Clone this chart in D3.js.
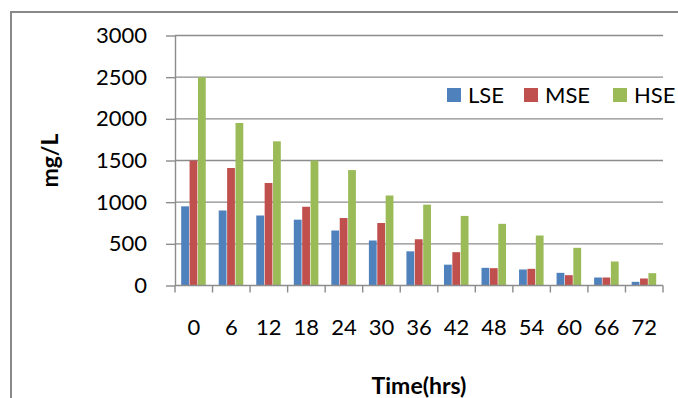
<!DOCTYPE html>
<html>
<head>
<meta charset="utf-8">
<script src="https://cdn.jsdelivr.net/npm/d3@7"></script>
<style>
  html, body { margin: 0; padding: 0; background: #fff; }
  svg { display: block; font-family: Lato, "Open Sans", sans-serif; }
</style>
</head>
<body>
<div id="chart"></div>
<script>
// chart data
const hours = ['0', '6', '12', '18', '24', '30', '36', '42', '48', '54', '60', '66', '72'];
const seriesNames = ['LSE', 'MSE', 'HSE'];
const lse = [950, 900, 840, 790, 660, 540, 410, 250, 212, 192, 152, 96, 44];
const mse = [1500, 1410, 1230, 945, 810, 750, 555, 400, 208, 200, 124, 96, 84];
const hse = [2500, 1950, 1730, 1500, 1385, 1080, 970, 835, 740, 600, 452, 288, 148];
const yTicks = [0, 500, 1000, 1500, 2000, 2500, 3000];
const colors = ['#4f81bd', '#c0504d', '#9bbb59'];

(function() {
  'use strict';

  const width = 678, height = 398,
        plot = { left: 175, right: 663, top: 35.5, bottom: 285.5 },
        values = [lse, mse, hse];

  const svg = d3.select('#chart')
    .append('svg')
    .attr('width', width)
    .attr('height', height);

  // chart area border (only left and top are inside the picture)
  svg.append('path')
    .attr('d', `M11,${height} V12 H${width}`)
    .attr('fill', 'none')
    .attr('stroke', '#898989')
    .attr('stroke-width', 2);

  const x = d3.scaleBand()
    .domain(hours)
    .range([plot.left, plot.right])
    .paddingInner(0.33)
    .paddingOuter(0.165);

  const xs = d3.scaleBand()
    .domain(seriesNames)
    .range([0, x.bandwidth()]);

  const y = d3.scaleLinear()
    .domain([0, 3000])
    .range([plot.bottom, plot.top]);

  // gridlines
  svg.append('g')
    .selectAll('line')
    .data(yTicks.filter(d => d > 0))
    .enter()
    .append('line')
      .attr('x1', plot.left)
      .attr('x2', plot.right)
      .attr('y1', d => y(d))
      .attr('y2', d => y(d))
      .attr('stroke', '#8c8c8c')
      .attr('stroke-width', 1.4);

  // bars
  const rows = hours.map((h, i) => ({ h: h, vals: seriesNames.map((s, j) => ({ s: s, v: values[j][i], j: j })) }));

  svg.append('g')
    .selectAll('g')
    .data(rows)
    .enter()
    .append('g')
      .attr('transform', d => `translate(${x(d.h)},0)`)
    .selectAll('rect')
    .data(d => d.vals)
    .enter()
    .append('rect')
      .attr('x', d => xs(d.s))
      .attr('y', d => y(d.v))
      .attr('width', xs.bandwidth() - 0.6)
      .attr('height', d => y(0) - y(d.v))
      .attr('fill', d => colors[d.j]);

  // y axis
  const yAxis = svg.append('g')
    .attr('transform', `translate(${plot.left},0)`)
    .call(d3.axisLeft(y).tickValues(yTicks).tickFormat(d3.format('d'))
      .tickSize(9).tickPadding(19).tickSizeOuter(0));
  yAxis.select('.domain').attr('stroke', '#8c8c8c').attr('stroke-width', 1.4);
  yAxis.selectAll('.tick line').attr('stroke', '#8c8c8c').attr('stroke-width', 1.4);
  yAxis.selectAll('.tick text')
    .attr('fill', '#000')
    .style('font-size', '22px')
    .style('font-family', 'Lato, sans-serif');

  // x axis: line plus ticks at category boundaries
  svg.append('line')
    .attr('x1', plot.left)
    .attr('x2', plot.right)
    .attr('y1', plot.bottom)
    .attr('y2', plot.bottom)
    .attr('stroke', '#8c8c8c')
    .attr('stroke-width', 1.4);

  const step = x.step(),
        bounds = hours.map(h => x(h) - x.paddingInner() * step / 2).concat([plot.right]);

  svg.append('g')
    .selectAll('line')
    .data(bounds)
    .enter()
    .append('line')
      .attr('x1', d => d)
      .attr('x2', d => d)
      .attr('y1', plot.bottom)
      .attr('y2', plot.bottom + 7)
      .attr('stroke', '#8c8c8c')
      .attr('stroke-width', 1.4);

  svg.append('g')
    .selectAll('text')
    .data(hours)
    .enter()
    .append('text')
      .attr('x', d => x(d) + x.bandwidth() / 2)
      .attr('y', 335)
      .attr('text-anchor', 'middle')
      .style('font-size', '22px')
      .text(d => d);

  // axis titles
  svg.append('text')
    .attr('x', (plot.left + plot.right) / 2)
    .attr('y', 394)
    .attr('text-anchor', 'middle')
    .style('font-size', '23px')
    .style('font-weight', 'bold')
    .text('Time(hrs)');

  svg.append('text')
    .attr('transform', `translate(58,${(plot.top + plot.bottom) / 2}) rotate(-90)`)
    .attr('text-anchor', 'middle')
    .style('font-size', '23px')
    .style('font-weight', 'bold')
    .text('mg/L');

  // legend
  const legendX = [447, 524, 613];
  const legend = svg.append('g')
    .selectAll('g')
    .data(seriesNames)
    .enter()
    .append('g')
      .attr('transform', (d, i) => `translate(${legendX[i]},88)`);

  legend.append('rect')
    .attr('width', 14)
    .attr('height', 14)
    .attr('fill', (d, i) => colors[i]);

  legend.append('text')
    .attr('x', 21)
    .attr('y', 15)
    .style('font-size', '22px')
    .text(d => d);
})();
</script>
</body>
</html>
